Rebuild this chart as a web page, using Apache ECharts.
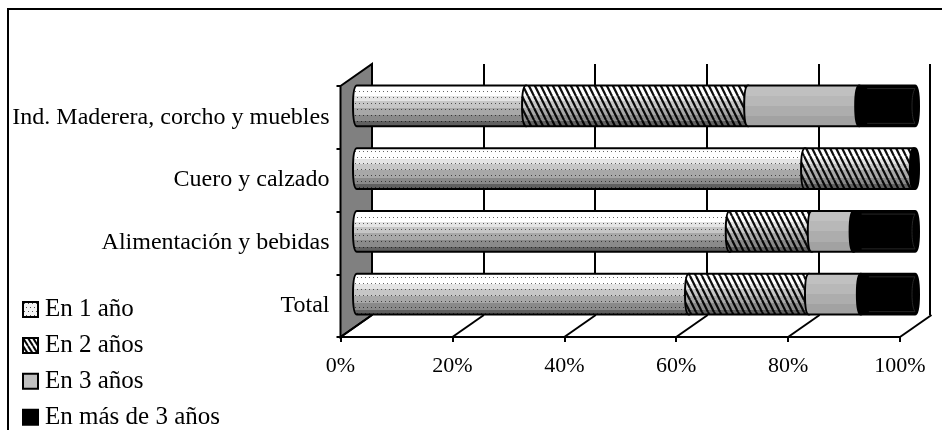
<!DOCTYPE html>
<html>
<head>
<meta charset="utf-8">
<style>html,body{margin:0;padding:0;background:#fff}#c{width:942px;height:430px}</style>
<script src="https://cdn.jsdelivr.net/npm/echarts@6/dist/echarts.min.js"></script>
</head>
<body>
<div id="c"></div>
<script>
// ---- data ----
var categories = ['Total', 'Alimentación y bebidas', 'Cuero y calzado', 'Ind. Maderera, corcho y muebles'];
var seriesNames = ['En 1 año', 'En 2 años', 'En 3 años', 'En más de 3 años'];
var en1 = [59.5, 66.8, 80.3, 30.3];
var en2 = [21.5, 14.7, 19.5, 39.8];
var en3 = [9.3, 7.5, 0, 19.9];
var enMas = [9.7, 11, 0.2, 10];
var ticksPct = [0, 20, 40, 60, 80, 100];

// ---- styling helpers ----
var FONT = '"Liberation Serif","Times New Roman",serif';
var allValues = [en1, en2, en3, enMas];
var chart = echarts.init(document.getElementById('c'), null, { renderer: 'canvas' });

function dotsTile() {
  var c = document.createElement('canvas'); c.width = 8; c.height = 12;
  var g = c.getContext('2d'); g.fillStyle = 'rgba(0,0,0,0.6)';
  [[1, 1], [5, 1], [3, 7], [7, 7]].forEach(function (p) { g.fillRect(p[0], p[1], 1, 1); });
  return { image: c, repeat: 'repeat' };
}
function hatchTile() {
  var w = 6, h = 12;
  var c = document.createElement('canvas'); c.width = w; c.height = h;
  var g = c.getContext('2d'); g.strokeStyle = 'rgba(0,0,0,0.95)'; g.lineWidth = 2.2;
  for (var i = -w; i <= w; i += w) {
    g.beginPath(); g.moveTo(i, 0); g.lineTo(i + w, h); g.stroke();
  }
  return { image: c, repeat: 'repeat' };
}
function bands(list) {
  var stops = [];
  list.forEach(function (b) {
    stops.push({ offset: b[0], color: b[2] });
    stops.push({ offset: b[1], color: b[2] });
  });
  return new echarts.graphic.LinearGradient(0, 0, 0, 1, stops);
}
var shadeLight = bands([[0, .26, '#ffffff'], [.26, .38, '#e4e4e4'], [.38, .54, '#c6c6c6'], [.54, .72, '#a8a8a8'], [.72, .88, '#8a8a8a'], [.88, 1, '#606060']]);
var shadeGray = bands([[0, .25, '#c0c0c0'], [.25, .5, '#b8b8b8'], [.5, .75, '#adadad'], [.75, 1, '#a2a2a2']]);
var dots = dotsTile(), hatch = hatchTile();
var fills = [shadeLight, shadeLight, shadeGray, '#000'];
var overlays = [dots, hatch, null, null];

function capsule(x0, x1, t, b) {
  var r = 4, h = b - t;
  return 'M' + (x0 + r) + ' ' + t + 'L' + (x1 - r) + ' ' + t +
    'C' + (x1 - 1) + ' ' + t + ' ' + x1 + ' ' + (t + h * .22) + ' ' + x1 + ' ' + (t + h / 2) +
    'C' + x1 + ' ' + (b - h * .22) + ' ' + (x1 - 1) + ' ' + b + ' ' + (x1 - r) + ' ' + b +
    'L' + (x0 + r) + ' ' + b +
    'C' + (x0 + 1) + ' ' + b + ' ' + x0 + ' ' + (b - h * .22) + ' ' + x0 + ' ' + (t + h / 2) +
    'C' + x0 + ' ' + (t + h * .22) + ' ' + (x0 + 1) + ' ' + t + ' ' + (x0 + r) + ' ' + t + 'Z';
}

function barRenderer(si) {
  return function (params, api) {
    var cat = api.value(0), start = api.value(1), end = api.value(2);
    if (end <= start) return null;
    var p0 = api.coord([start, cat]), p1 = api.coord([end, cat]);
    var hgt = api.size([0, 1])[1] * 0.65;
    var t = p0[1] - hgt / 2, b = p0[1] + hgt / 2;
    var d = capsule(p0[0] - 4, p1[0] + 4, t, b);
    var kids = [{ type: 'path', shape: { pathData: d }, style: { fill: fills[si], stroke: null } }];
    if (overlays[si]) kids.push({ type: 'path', shape: { pathData: d }, style: { fill: overlays[si], stroke: null } });
    if (si === 3 && p1[0] - p0[0] > 20) {
      var xe = p1[0], xs = p0[0] + 8;
      kids.push({
        type: 'path',
        shape: { pathData: 'M' + xs + ' ' + (t + 3) + 'L' + xe + ' ' + (t + 3) + 'C' + (xe - 2) + ' ' + (t + 6) + ' ' + (xe - 3) + ' ' + (t + 12) + ' ' + (xe - 3) + ' ' + (t + hgt / 2) + 'C' + (xe - 3) + ' ' + (b - 12) + ' ' + (xe - 2) + ' ' + (b - 6) + ' ' + xe + ' ' + (b - 3) + 'L' + xs + ' ' + (b - 3) },
        style: { fill: null, stroke: '#262626', lineWidth: 1 }
      });
    }
    kids.push({ type: 'path', shape: { pathData: d }, style: { fill: null, stroke: '#000', lineWidth: 2 } });
    return { type: 'group', silent: true, children: kids };
  };
}

function barData(si) {
  return categories.map(function (_, c) {
    var s = 0;
    for (var k = 0; k < si; k++) s += allValues[k][c];
    return [c, s, s + allValues[si][c]];
  });
}

// depth of the 3D box: offset from the front grid to the back grid
var frontGrid = { left: 340.5, top: 86, width: 559.5, height: 251 };
var backGrid = { left: 372, top: 64, width: 558, height: 251 };
var barGrid = { left: 357, top: 74.6, width: 558, height: 251 };
var dx = backGrid.left - frontGrid.left, dy = backGrid.top - frontGrid.top;

var series = [
  { // left wall
    type: 'custom', xAxisIndex: 0, yAxisIndex: 0, silent: true, z: 1,
    data: [[0]],
    renderItem: function (p, api) {
      var cs = p.coordSys;
      return {
        type: 'polygon', silent: true,
        shape: { points: [[cs.x, cs.y], [cs.x + dx, cs.y + dy], [cs.x + dx, cs.y + cs.height + dy], [cs.x, cs.y + cs.height]] },
        style: { fill: '#808080', stroke: '#000', lineWidth: 2 }
      };
    }
  },
  { // floor diagonals
    type: 'custom', xAxisIndex: 0, yAxisIndex: 0, silent: true, z: 1,
    data: ticksPct.map(function (v) { return [v]; }),
    renderItem: function (p, api) {
      var cs = p.coordSys;
      var x = api.coord([api.value(0), 0])[0], y = cs.y + cs.height;
      return {
        type: 'line', silent: true,
        shape: { x1: x, y1: y, x2: x + dx, y2: y + dy },
        style: { stroke: '#000', lineWidth: 2 }
      };
    }
  }
];
seriesNames.forEach(function (n, si) {
  series.push({
    type: 'custom', name: n, xAxisIndex: 2, yAxisIndex: 2, z: 3,
    encode: { x: [1, 2], y: 0 },
    renderItem: barRenderer(si),
    data: barData(si)
  });
});

function dotsSwatch() {
  var c = document.createElement('canvas'); c.width = 8; c.height = 8;
  var g = c.getContext('2d'); g.fillStyle = '#f4f4f4'; g.fillRect(0, 0, 8, 8);
  g.fillStyle = '#555'; [[1, 1], [5, 1], [3, 5], [7, 5]].forEach(function (p) { g.fillRect(p[0], p[1], 1, 1); });
  return { image: c, repeat: 'repeat' };
}
function hatchSwatch() {
  var w = 5, h = 8;
  var c = document.createElement('canvas'); c.width = w; c.height = h;
  var g = c.getContext('2d'); g.fillStyle = '#fff'; g.fillRect(0, 0, w, h);
  g.strokeStyle = '#000'; g.lineWidth = 2;
  for (var i = -w; i <= w; i += w) { g.beginPath(); g.moveTo(i, 0); g.lineTo(i + w, h); g.stroke(); }
  return { image: c, repeat: 'repeat' };
}
var swatches = [dotsSwatch(), hatchSwatch(), '#c0c0c0', '#000'];

chart.setOption({
  animation: false,
  backgroundColor: '#fff',
  textStyle: { fontFamily: FONT, color: '#000' },
  graphic: [{
    type: 'rect', silent: true, z: 0,
    shape: { x: 8, y: 9, width: 1200, height: 800 },
    style: { fill: null, stroke: '#000', lineWidth: 2 }
  }],
  legend: {
    orient: 'vertical', left: 22, top: 297, padding: 0,
    itemWidth: 15, itemHeight: 15, itemGap: 10.9, selectedMode: false,
    icon: 'rect',
    textStyle: { fontFamily: FONT, fontSize: 25, color: '#000', padding: [0, 0, 0, 2], lineHeight: 24 },
    data: seriesNames.map(function (n, i) {
      return { name: n, icon: 'rect', itemStyle: { color: swatches[i], borderColor: '#000', borderWidth: 2 } };
    })
  },
  grid: [
    Object.assign({ containLabel: false }, frontGrid),
    Object.assign({ containLabel: false }, backGrid),
    Object.assign({ containLabel: false }, barGrid)
  ],
  xAxis: [
    {
      type: 'value', gridIndex: 0, min: 0, max: 100, interval: 20,
      axisLine: { show: true, lineStyle: { color: '#000', width: 2 } },
      axisTick: { show: true, length: 5, lineStyle: { color: '#000', width: 2 } },
      axisLabel: { show: true, margin: 18, formatter: '{value}%', fontFamily: FONT, fontSize: 22, color: '#000', hideOverlap: false },
      splitLine: { show: false }
    },
    {
      type: 'value', gridIndex: 1, min: 0, max: 100, interval: 20,
      axisLine: { show: false }, axisTick: { show: false }, axisLabel: { show: false },
      splitLine: { show: true, showMinLine: true, showMaxLine: true, lineStyle: { color: '#000', width: 2 } }
    },
    { type: 'value', gridIndex: 2, min: 0, max: 100, show: false, splitLine: { show: false } }
  ],
  yAxis: [
    {
      type: 'category', gridIndex: 0, data: categories,
      axisLine: { show: true, lineStyle: { color: '#000', width: 2 } },
      axisTick: { show: true, length: 4, lineStyle: { color: '#000', width: 2 } },
      axisLabel: { show: true, margin: 11, fontFamily: FONT, fontSize: 24, color: '#000', interval: 0 },
      splitLine: { show: false }
    },
    { type: 'category', gridIndex: 1, data: categories, show: false },
    { type: 'category', gridIndex: 2, data: categories, show: false }
  ],
  series: series
});
</script>
</body>
</html>
